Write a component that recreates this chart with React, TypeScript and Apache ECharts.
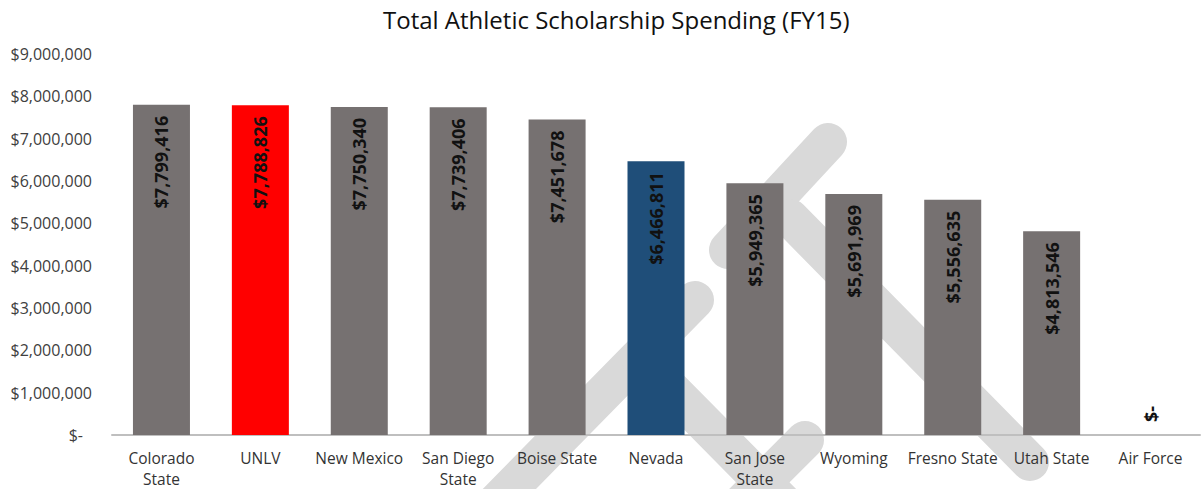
import React, { useEffect, useRef } from "react";
import * as echarts from "echarts";

const categories = [
  "Colorado\nState",
  "UNLV",
  "New Mexico",
  "San Diego\nState",
  "Boise State",
  "Nevada",
  "San Jose\nState",
  "Wyoming",
  "Fresno State",
  "Utah State",
  "Air Force",
];
const spending = [7799416, 7788826, 7750340, 7739406, 7451678, 6466811, 5949365, 5691969, 5556635, 4813546, 0];
const barColors = ["#767171", "#ff0000", "#767171", "#767171", "#767171", "#1f4e79", "#767171", "#767171", "#767171", "#767171", "#767171"];
const yTicks = { min: 0, max: 9000000, interval: 1000000 };
const titleText = "Total Athletic Scholarship Spending (FY15)";

const FONT = "'Open Sans', sans-serif";

const fmt = (v: number) => (v === 0 ? "$-" : "$" + v.toLocaleString("en-US"));

export default function App() {
  const ref = useRef<HTMLDivElement>(null);
  useEffect(() => {
    if (!ref.current) return;
    const chart = echarts.init(ref.current, undefined, { renderer: "svg" });
    const wm = { stroke: "#d9d9d9", lineWidth: 38, lineCap: "round" };
    const seg = (x1: number, y1: number, x2: number, y2: number) => ({
      type: "line",
      z: -1,
      silent: true,
      shape: { x1, y1, x2, y2 },
      style: wm,
    });
    chart.setOption({
      animation: false,
      backgroundColor: "#ffffff",
      title: {
        text: titleText,
        left: 378,
        top: 2,
        textStyle: { fontFamily: FONT, fontSize: 24, fontWeight: "normal", color: "#111111" },
      },
      graphic: [
        seg(828, 142, 728, 250),
        seg(790, 218, 1030, 462),
        seg(695, 300, 420, 580),
        seg(640, 358, 800, 520),
        seg(805, 440, 700, 545),
      ],
      grid: { left: 112, right: 4, top: 54, bottom: 54 },
      xAxis: {
        type: "category",
        data: categories,
        axisLine: { show: true, lineStyle: { color: "#bfbfbf", width: 2 } },
        axisTick: { show: false },
        axisLabel: {
          interval: 0,
          margin: 12,
          fontFamily: FONT,
          fontSize: 15.5,
          color: "#333333",
          lineHeight: 21,
        },
      },
      yAxis: {
        type: "value",
        min: yTicks.min,
        max: yTicks.max,
        interval: yTicks.interval,
        splitLine: { show: false },
        axisLine: { show: false },
        axisTick: { show: false },
        axisLabel: {
          margin: 20,
          fontFamily: FONT,
          fontSize: 16,
          color: "#404040",
          formatter: (v: number) => (v === 0 ? "{z|$-}" : fmt(v)),
          rich: { z: { fontFamily: FONT, fontSize: 16, color: "#404040", padding: [0, 9, 0, 0] } },
        },
      },
      series: [
        {
          type: "bar",
          barWidth: 57,
          data: spending.map((v, i) => ({
            value: v,
            itemStyle: { color: barColors[i] },
            label:
              v === 0
                ? { position: "insideBottom", align: "left", distance: 13 }
                : undefined,
          })),
          label: {
            show: true,
            position: "insideTop",
            distance: 11,
            rotate: 90,
            align: "right",
            verticalAlign: "middle",
            fontFamily: FONT,
            fontSize: 18,
            fontWeight: "bold",
            color: "#111111",
            formatter: (p: any) => fmt(p.value),
          },
        },
      ],
    });
    return () => chart.dispose();
  }, []);
  return <div ref={ref} style={{ width: 1204, height: 489, position: "absolute", left: 0, top: 0 }} />;
}
